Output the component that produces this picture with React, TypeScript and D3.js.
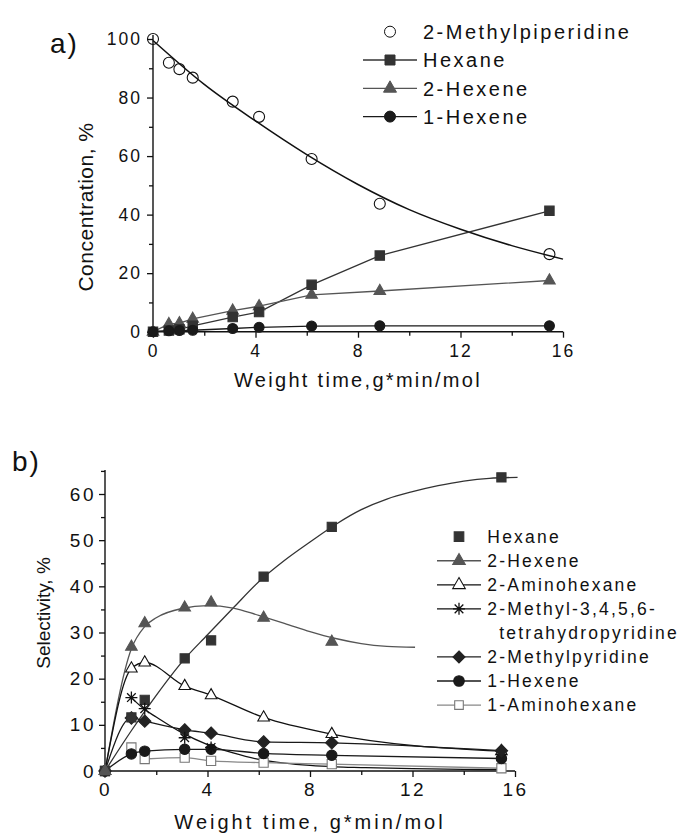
import * as d3 from 'd3';
import { useEffect, useRef } from 'react';

const FONT = '"Liberation Sans", Arial, Helvetica, sans-serif';

// ---- panel a: concentration vs weight time ----
const timeA = [0, 0.62, 1.03, 1.55, 3.11, 4.14, 6.19, 8.85, 15.47];
const methylpiperidineA = [100, 91.9, 89.7, 86.8, 78.6, 73.4, 59.0, 43.7, 26.5];
const hexaneA = [0, 0.4, 0.8, 2.0, 5.0, 6.7, 16.0, 26.0, 41.3];
const hexene2A = [0, 2.6, 2.9, 4.4, 7.2, 8.7, 12.6, 13.9, 17.5];
const hexene1A = [0, 0.3, 0.4, 0.5, 1.1, 1.5, 1.9, 2.0, 2.0];
// fitted curve for 2-methylpiperidine
const fitTimeA = [0, 2, 4, 6, 8, 10, 12, 14, 16];
const fitMethylpiperidineA = [99.5, 84.5, 72, 60.5, 50.3, 41.7, 35, 29.4, 24.8];

const ticksXA = [0, 4, 8, 12, 16];
const minorXA = [2, 6, 10, 14];
const ticksYA = [0, 20, 40, 60, 80, 100];
const minorYA = [10, 30, 50, 70, 90];

// ---- panel b: selectivity vs weight time ----
const timeB = [0, 1.03, 1.55, 3.11, 4.14, 6.19, 8.85, 15.47];
const hexaneB = [0, 11.6, 15.4, 24.4, 28.3, 42.1, 52.9, 63.6];
const hexene2B = [0, 26.9, 32.0, 35.4, 36.5, 33.2, 28.0];
const aminohexane2B = [0, 22.2, 23.5, 18.4, 16.4, 11.6, 8.0, 4.3];
const methylpyridineB = [0, 11.5, 10.8, 8.9, 8.2, 6.3, 6.1, 4.4];
const hexene1B = [0, 3.7, 4.3, 4.7, 4.7, 3.8, 3.4, 2.7];
const aminohexane1B = [0, 5.1, 2.6, 2.9, 2.2, 1.8, 1.5, 0.6];
const starTimeB = [1.03, 1.55, 3.11, 4.14];
const tetrahydropyridineB = [15.9, 13.5, 7.2, 5.1];
// fitted curves
const hexaneFitT = [0, 1, 2, 3, 4, 5, 6, 7, 8, 9, 10, 11, 12, 13, 14, 15, 16.1];
const hexaneFit = [0, 8.5, 16.4, 23.6, 29.5, 35.3, 41, 45.6, 49.6, 53.4, 56.6, 58.9, 60.5, 61.8, 62.8, 63.4, 63.6];
const hexene2FitT = [0, 1.03, 1.55, 2, 3, 4, 5, 6, 7, 8, 9, 10, 11, 12.1];
const hexene2Fit = [0, 26.5, 31.3, 33.2, 35.2, 35.8, 35.3, 33.7, 32.0, 30.2, 28.7, 27.6, 27.0, 26.8];
const starFitT = [1.03, 1.55, 2, 3, 4, 5, 6, 7, 8, 9, 10, 12, 14, 15.47];
const starFit = [15.9, 13.3, 11.7, 8.3, 5.7, 3.9, 2.5, 1.7, 1.2, 0.9, 0.75, 0.5, 0.35, 0.3];

const ticksXB = [0, 4, 8, 12, 16];
const minorXB = [2, 6, 10, 14];
const ticksYB = [0, 10, 20, 30, 40, 50, 60];
const minorYB = [5, 15, 25, 35, 45, 55, 65];

type Kind = 'circle' | 'square' | 'triangle' | 'diamond' | 'star';

const markerPath = (kind: Kind, s: number) => {
    const p = d3.path();
    if (kind === 'circle') {
        p.arc(0, 0, s, 0, Math.PI * 2);
    } else if (kind === 'square') {
        p.rect(-s, -s, 2 * s, 2 * s);
    } else if (kind === 'triangle') {
        p.moveTo(0, -s * 1.15);
        p.lineTo(s, s * 0.6);
        p.lineTo(-s, s * 0.6);
        p.closePath();
    } else if (kind === 'diamond') {
        p.moveTo(0, -s);
        p.lineTo(s, 0);
        p.lineTo(0, s);
        p.lineTo(-s, 0);
        p.closePath();
    } else {
        const d = s * 0.72;
        p.moveTo(-s, 0); p.lineTo(s, 0);
        p.moveTo(0, -s); p.lineTo(0, s);
        p.moveTo(-d, -d); p.lineTo(d, d);
        p.moveTo(-d, d); p.lineTo(d, -d);
    }
    return p.toString();
};

const zip = (xs: number[], ys: number[]) => ys.map((y, i) => [xs[i], y] as [number, number]);

export default function App() {
    const svgRef = useRef<SVGSVGElement | null>(null);

    useEffect(() => {
        const svg = d3.select(svgRef.current);
        svg.html('');

        const drawAxes = (
            x: d3.ScaleLinear<number, number>, y: d3.ScaleLinear<number, number>,
            tx: number[], mx: number[], ty: number[], my: number[], yTop: number,
            fontSize: number, ls: number, padX: number, padY: number
        ) => {
            const y0 = y(0), x0 = x(0);
            const gx = svg.append('g').attr('transform', `translate(0,${y0})`);
            gx.call(d3.axisBottom(x).tickValues(tx).tickSize(6).tickSizeOuter(0).tickPadding(padX));
            gx.append('g').call(d3.axisBottom(x).tickValues(mx).tickSize(4).tickFormat(() => ''));
            const gy = svg.append('g').attr('transform', `translate(${x0},0)`);
            gy.call(d3.axisLeft(y).tickValues(ty).tickSize(6).tickSizeOuter(0).tickPadding(padY));
            gy.append('g').call(d3.axisLeft(y).tickValues(my).tickSize(4).tickFormat(() => ''));
            svg.selectAll('.domain').remove();
            svg.selectAll('.tick line').attr('stroke', '#111').attr('stroke-width', 1.3);
            [gx, gy].forEach(g => g.attr('font-family', FONT).attr('font-size', fontSize)
                .selectAll('text').attr('fill', '#111').style('letter-spacing', `${ls}px`));
            svg.append('line').attr('x1', x0).attr('x2', x(16)).attr('y1', y0).attr('y2', y0)
                .attr('stroke', '#111').attr('stroke-width', 1.4);
            svg.append('line').attr('x1', x0).attr('x2', x0).attr('y1', y0).attr('y2', y(yTop))
                .attr('stroke', '#111').attr('stroke-width', 1.4);
        };

        const addLine = (pts: [number, number][], x: any, y: any, color: string, curve: d3.CurveFactory = d3.curveLinear, w = 1.3) => {
            svg.append('path')
                .attr('d', d3.line().x(d => x(d[0])).y(d => y(d[1])).curve(curve)(pts) || '')
                .attr('fill', 'none').attr('stroke', color).attr('stroke-width', w);
        };

        const addMarkers = (pts: [number, number][], x: any, y: any, kind: Kind, size: number, fill: string, stroke: string) => {
            svg.append('g').selectAll('path').data(pts).enter().append('path')
                .attr('transform', d => `translate(${x(d[0])},${y(d[1])})`)
                .attr('d', markerPath(kind, size))
                .attr('fill', fill).attr('stroke', stroke).attr('stroke-width', kind === 'star' ? 1.3 : 1.1);
        };

        const addText = (txt: string, x: number, y: number, size: number, ls: number, anchor = 'start', rotate = false) => {
            const t = svg.append('text').text(txt)
                .attr('font-family', FONT).attr('font-size', size).attr('fill', '#111')
                .attr('text-anchor', anchor).style('letter-spacing', `${ls}px`);
            if (rotate) t.attr('transform', `translate(${x},${y}) rotate(-90)`);
            else t.attr('x', x).attr('y', y);
        };

        // ===== panel a =====
        const xA = d3.scaleLinear().domain([0, 16]).range([153, 563]);
        const yA = d3.scaleLinear().domain([0, 100]).range([331.7, 39]);
        drawAxes(xA, yA, ticksXA, minorXA, ticksYA, minorYA, 101.4, 17.5, 2, 7, 5);

        addLine(zip(fitTimeA, fitMethylpiperidineA), xA, yA, '#111', d3.curveMonotoneX, 1.5);
        addLine(zip(timeA, hexaneA), xA, yA, '#333');
        addLine(zip(timeA, hexene2A), xA, yA, '#555');
        addLine(zip(timeA, hexene1A), xA, yA, '#1a1a1a');
        addMarkers(zip(timeA, methylpiperidineA), xA, yA, 'circle', 5.5, 'none', '#111');
        addMarkers(zip(timeA, hexene2A), xA, yA, 'triangle', 5.8, '#555', '#555');
        addMarkers(zip(timeA, hexaneA), xA, yA, 'square', 4.7, '#333', '#333');
        addMarkers(zip(timeA, hexene1A), xA, yA, 'circle', 5, '#1a1a1a', '#1a1a1a');

        addText('a)', 50, 53, 28, 2);
        addText('Weight time,g*min/mol', 358, 387, 20, 2.3, 'middle');
        addText('Concentration, %', 93, 207, 21, 0.5, 'middle', true);

        const legendA: { label: string, kind: Kind, fill: string, stroke: string, line: boolean, s: number }[] = [
            { label: '2-Methylpiperidine', kind: 'circle', fill: '#fff', stroke: '#111', line: false, s: 5.5 },
            { label: 'Hexane', kind: 'square', fill: '#333', stroke: '#333', line: true, s: 5 },
            { label: '2-Hexene', kind: 'triangle', fill: '#555', stroke: '#555', line: true, s: 6.5 },
            { label: '1-Hexene', kind: 'circle', fill: '#1a1a1a', stroke: '#1a1a1a', line: true, s: 5.5 },
        ];
        legendA.forEach((d, i) => {
            const cy = 31.7 + i * 28.3;
            if (d.line) svg.append('line').attr('x1', 363).attr('x2', 417).attr('y1', cy).attr('y2', cy)
                .attr('stroke', d.stroke).attr('stroke-width', 1.3);
            svg.append('path').attr('transform', `translate(390,${cy})`).attr('d', markerPath(d.kind, d.s))
                .attr('fill', d.fill).attr('stroke', d.stroke);
            addText(d.label, 423, cy + 7.2, 20, 2.5);
        });

        // ===== panel b =====
        const xB = d3.scaleLinear().domain([0, 16]).range([105, 515]);
        const yB = d3.scaleLinear().domain([0, 60]).range([771, 494]);
        drawAxes(xB, yB, ticksXB, minorXB, ticksYB, minorYB, 65.2, 19, 2.5, 6, 3);

        addLine(zip(hexaneFitT, hexaneFit), xB, yB, '#333', d3.curveMonotoneX);
        addLine(zip(hexene2FitT, hexene2Fit), xB, yB, '#555', d3.curveMonotoneX);
        addLine(zip(timeB, aminohexane2B), xB, yB, '#111', d3.curveMonotoneX);
        addLine(zip(starFitT, starFit), xB, yB, '#111', d3.curveMonotoneX);
        addLine(zip(timeB, methylpyridineB), xB, yB, '#1a1a1a', d3.curveMonotoneX);
        addLine(zip(timeB, hexene1B), xB, yB, '#1a1a1a', d3.curveMonotoneX);
        addLine(zip(timeB.slice(2), aminohexane1B.slice(2)), xB, yB, '#888', d3.curveMonotoneX);

        addMarkers(zip(timeB, aminohexane1B), xB, yB, 'square', 4.6, '#fff', '#777');
        addMarkers(zip(timeB, hexene1B), xB, yB, 'circle', 5.2, '#1a1a1a', '#1a1a1a');
        addMarkers(zip(timeB, aminohexane2B), xB, yB, 'triangle', 5.8, '#fff', '#111');
        addMarkers(zip(timeB, methylpyridineB), xB, yB, 'diamond', 6.2, '#222', '#222');
        addMarkers(zip(timeB, hexaneB), xB, yB, 'square', 4.6, '#333', '#333');
        addMarkers(zip(timeB, hexene2B), xB, yB, 'triangle', 5.8, '#555', '#555');
        addMarkers(zip(starTimeB, tetrahydropyridineB), xB, yB, 'star', 6, 'none', '#111');

        addText('b)', 12, 471, 28, 2);
        addText('Weight time, g*min/mol', 310, 829, 20, 3, 'middle');
        addText('Selectivity, %', 50, 613, 19, 0, 'middle', true);

        const legendB: { label: string, kind: Kind | null, fill: string, stroke: string, line: boolean, s: number, dx?: number }[] = [
            { label: 'Hexane', kind: 'square', fill: '#333', stroke: '#333', line: false, s: 4.8 },
            { label: '2-Hexene', kind: 'triangle', fill: '#555', stroke: '#555', line: true, s: 6.3 },
            { label: '2-Aminohexane', kind: 'triangle', fill: '#fff', stroke: '#111', line: true, s: 6.3 },
            { label: '2-Methyl-3,4,5,6-', kind: 'star', fill: 'none', stroke: '#111', line: true, s: 6 },
            { label: 'tetrahydropyridine', kind: null, fill: 'none', stroke: 'none', line: false, s: 0, dx: 12 },
            { label: '2-Methylpyridine', kind: 'diamond', fill: '#222', stroke: '#222', line: true, s: 6 },
            { label: '1-Hexene', kind: 'circle', fill: '#1a1a1a', stroke: '#1a1a1a', line: true, s: 5.3 },
            { label: '1-Aminohexane', kind: 'square', fill: '#fff', stroke: '#777', line: true, s: 4.3 },
        ];
        legendB.forEach((d, i) => {
            const cy = 536.7 + i * 24.05;
            if (d.line) svg.append('line').attr('x1', 437).attr('x2', 481).attr('y1', cy).attr('y2', cy)
                .attr('stroke', d.stroke === '#777' ? '#888' : d.stroke).attr('stroke-width', 1.3);
            if (d.kind) svg.append('path').attr('transform', `translate(459,${cy})`).attr('d', markerPath(d.kind, d.s))
                .attr('fill', d.fill).attr('stroke', d.stroke).attr('stroke-width', d.kind === 'star' ? 1.3 : 1.1);
            addText(d.label, 487.3 + (d.dx || 0), cy + 6.3, 17.5, 2.2);
        });
    }, []);

    return <svg ref={svgRef} width={680} height={836}
                style={{ position: 'absolute', left: 0, top: 0, background: '#fff' }}></svg>;
}
